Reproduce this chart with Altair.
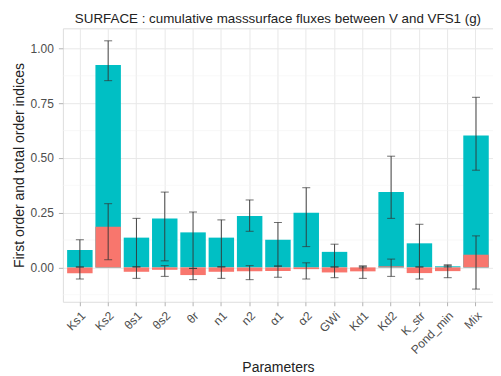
import altair as alt
import pandas as pd

params = ["Ks1", "Ks2", "θs1", "θs2", "θr", "n1", "n2", "α1", "α2", "GWi",
          "Kd1", "Kd2", "K_str", "Pond_min", "Mix"]
total = [0.080, 0.925, 0.136, 0.223, 0.160, 0.136, 0.235, 0.126, 0.250, 0.071,
         0.000, 0.344, 0.110, 0.005, 0.603]
total_lo = [0.002, 0.853, 0.002, 0.030, -0.004, 0.002, 0.165, 0.006, 0.095, 0.002,
            -0.002, 0.224, 0.002, 0.002, 0.444]
total_hi = [0.126, 1.035, 0.224, 0.344, 0.253, 0.217, 0.308, 0.205, 0.364, 0.106,
            0.006, 0.508, 0.197, 0.012, 0.777]
first = [-0.027, 0.186, -0.020, -0.011, -0.035, -0.020, -0.018, -0.017, -0.008, -0.023,
         -0.018, 0.005, -0.026, -0.017, 0.058]
first_lo = [-0.053, 0.035, -0.050, -0.041, -0.056, -0.050, -0.056, -0.045, -0.053, -0.047,
            -0.050, -0.041, -0.053, -0.047, -0.099]
first_hi = [0.002, 0.291, 0.003, 0.008, -0.005, 0.003, 0.008, 0.006, 0.021, 0.002,
            0.006, 0.038, 0.002, 0.008, 0.144]
minor_grid = [-0.125, 0.125, 0.375, 0.625, 0.875]
major_ticks = [0.0, 0.25, 0.5, 0.75, 1.0]

df = pd.DataFrame({
    "param": params, "total": total, "total_lo": total_lo, "total_hi": total_hi,
    "first": first, "first_lo": first_lo, "first_hi": first_hi, "zero": 0.0,
})
minor_df = pd.DataFrame({"y": minor_grid})

FONT = "Liberation Sans"
TEAL = "#00BFC4"
SALMON = "#F8766D"

xenc = alt.X("param:N", sort=params, title="Parameters",
             scale=alt.Scale(paddingInner=0.1, paddingOuter=0.15),
             axis=alt.Axis(labelAngle=-45, labelFontSize=12, labelColor="#4D4D4D",
                           labelFont=FONT, titleFont=FONT, titleFontSize=14,
                           titleFontWeight="normal", titleColor="#222222",
                           tickColor="#B3B3B3", tickSize=4, labelPadding=4,
                           domain=False, grid=True, gridColor="#E8E8E8",
                           titlePadding=5))
yscale = alt.Scale(domain=[-0.157, 1.092], nice=False, zero=False)
yaxis = alt.Axis(values=major_ticks, format=".2f", labelFontSize=12,
                 labelColor="#4D4D4D", labelFont=FONT, titleFont=FONT,
                 titleFontSize=14, titleFontWeight="normal", titleColor="#222222",
                 tickColor="#B3B3B3", tickSize=4.5, labelPadding=5, domain=False,
                 grid=True, gridColor="#E8E8E8", titlePadding=4)

base = alt.Chart(df)

minor = alt.Chart(minor_df).mark_rule(color="#F3F3F3", strokeWidth=0.6).encode(
    y=alt.Y("y:Q", scale=yscale, axis=yaxis,
            title="First order and total order indices"))

bars_total = base.mark_bar(color=TEAL).encode(
    x=xenc, y=alt.Y("total:Q", scale=yscale), y2="zero:Q")
bars_first = base.mark_bar(color=SALMON).encode(
    x=xenc, y=alt.Y("first:Q", scale=yscale), y2="zero:Q")

def errbar(lo, hi):
    rule = base.mark_rule(color="#333333", strokeWidth=0.9).encode(
        x=xenc, y=alt.Y(f"{lo}:Q", scale=yscale), y2=f"{hi}:Q")
    t1 = base.mark_tick(color="#333333", size=8, thickness=1).encode(
        x=xenc, y=alt.Y(f"{lo}:Q", scale=yscale))
    t2 = base.mark_tick(color="#333333", size=8, thickness=1).encode(
        x=xenc, y=alt.Y(f"{hi}:Q", scale=yscale))
    return [rule, t1, t2]

layers = [minor, bars_total, bars_first] + errbar("total_lo", "total_hi") + errbar("first_lo", "first_hi")

chart = alt.layer(*layers).properties(
    width=431, height=274,
    title=alt.TitleParams("SURFACE : cumulative masssurface fluxes between V and VFS1 (g)",
                          font=FONT, fontSize=13.4, fontWeight="normal",
                          color="#222222", anchor="middle", offset=3),
    autosize=alt.AutoSizeParams(type="none"),
    padding={"left": 55, "top": 20, "right": 0, "bottom": 73},
).configure_view(stroke="#B3B3B3", strokeWidth=1).configure(background="white")

chart.save("out.html", embed_options={"renderer": "svg", "actions": False})
